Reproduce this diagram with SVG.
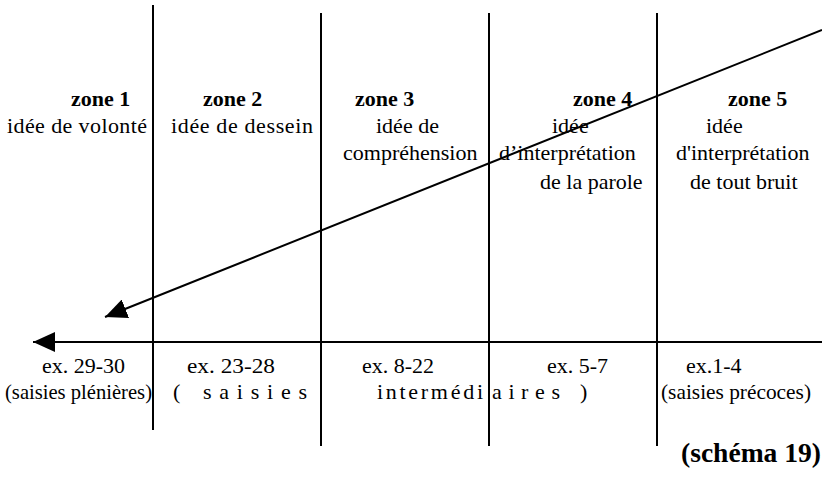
<svg xmlns="http://www.w3.org/2000/svg" width="822" height="479" viewBox="0 0 822 479">
<style>
.t{font-family:"Liberation Serif","Tinos","Times New Roman","DejaVu Serif","Noto Serif",serif;font-size:22px;fill:#000}
.b{font-weight:bold}
.ln{stroke:#000;stroke-width:2;fill:none}
</style>
<defs>
<marker id="ah" markerWidth="24" markerHeight="20" refX="22" refY="10" orient="auto" markerUnits="userSpaceOnUse">
<path d="M0,0 L22,10 L0,20 Z" fill="#000"/>
</marker>
</defs>
<rect width="822" height="479" fill="#fff"/>
<g id="connectors">
<line class="ln" x1="153" y1="5" x2="153" y2="430"/>
<line class="ln" x1="321" y1="13" x2="321" y2="446"/>
<line class="ln" x1="489" y1="13" x2="489" y2="446"/>
<line class="ln" x1="657" y1="13" x2="657" y2="446"/>
<line class="ln" x1="822" y1="342" x2="33" y2="342" marker-end="url(#ah)"/>
<line class="ln" x1="822" y1="30" x2="105" y2="317" marker-end="url(#ah)"/>
</g>
<g id="zone1">
<text class="t b" x="71" y="106">zone 1</text>
<text class="t" x="7" y="133" textLength="140" lengthAdjust="spacing">idée de volonté</text>
</g>
<g id="zone2">
<text class="t b" x="203" y="106">zone 2</text>
<text class="t" x="171" y="133" textLength="142" lengthAdjust="spacing">idée de dessein</text>
</g>
<g id="zone3">
<text class="t b" x="355" y="106">zone 3</text>
<text class="t" x="376" y="133">idée de</text>
<text class="t" x="343" y="160">compréhension</text>
</g>
<g id="zone4">
<text class="t b" x="573" y="106">zone 4</text>
<text class="t" x="552" y="133">idée</text>
<text class="t" x="499" y="160">d’interprétation</text>
<text class="t" x="540" y="189">de la parole</text>
</g>
<g id="zone5">
<text class="t b" x="728" y="106">zone 5</text>
<text class="t" x="706" y="133">idée</text>
<text class="t" x="676" y="160">d'interprétation</text>
<text class="t" x="690" y="189">de tout bruit</text>
</g>
<g id="bottom">
<text class="t" x="42" y="373">ex. 29-30</text>
<text class="t" x="5" y="399" textLength="147" lengthAdjust="spacingAndGlyphs">(saisies plénières)</text>
<text class="t" x="187" y="373" textLength="88" lengthAdjust="spacingAndGlyphs">ex. 23-28</text>
<text class="t" x="173" y="399">(</text>
<text class="t" x="203" y="399" textLength="104" lengthAdjust="spacing">saisies</text>
<text class="t" x="362" y="373">ex. 8-22</text>
<text class="t" x="377" y="399" textLength="106" lengthAdjust="spacing">intermédi</text>
<text class="t" x="492" y="399" textLength="68" lengthAdjust="spacing">aires</text>
<text class="t" x="580" y="399">)</text>
<text class="t" x="547" y="373">ex. 5-7</text>
<text class="t" x="686" y="373">ex.1-4</text>
<text class="t" x="661" y="399" textLength="150" lengthAdjust="spacingAndGlyphs">(saisies précoces)</text>
<text class="t b" x="681" y="462" style="font-size:27px" textLength="140" lengthAdjust="spacingAndGlyphs">(schéma 19)</text>
</g>
</svg>
